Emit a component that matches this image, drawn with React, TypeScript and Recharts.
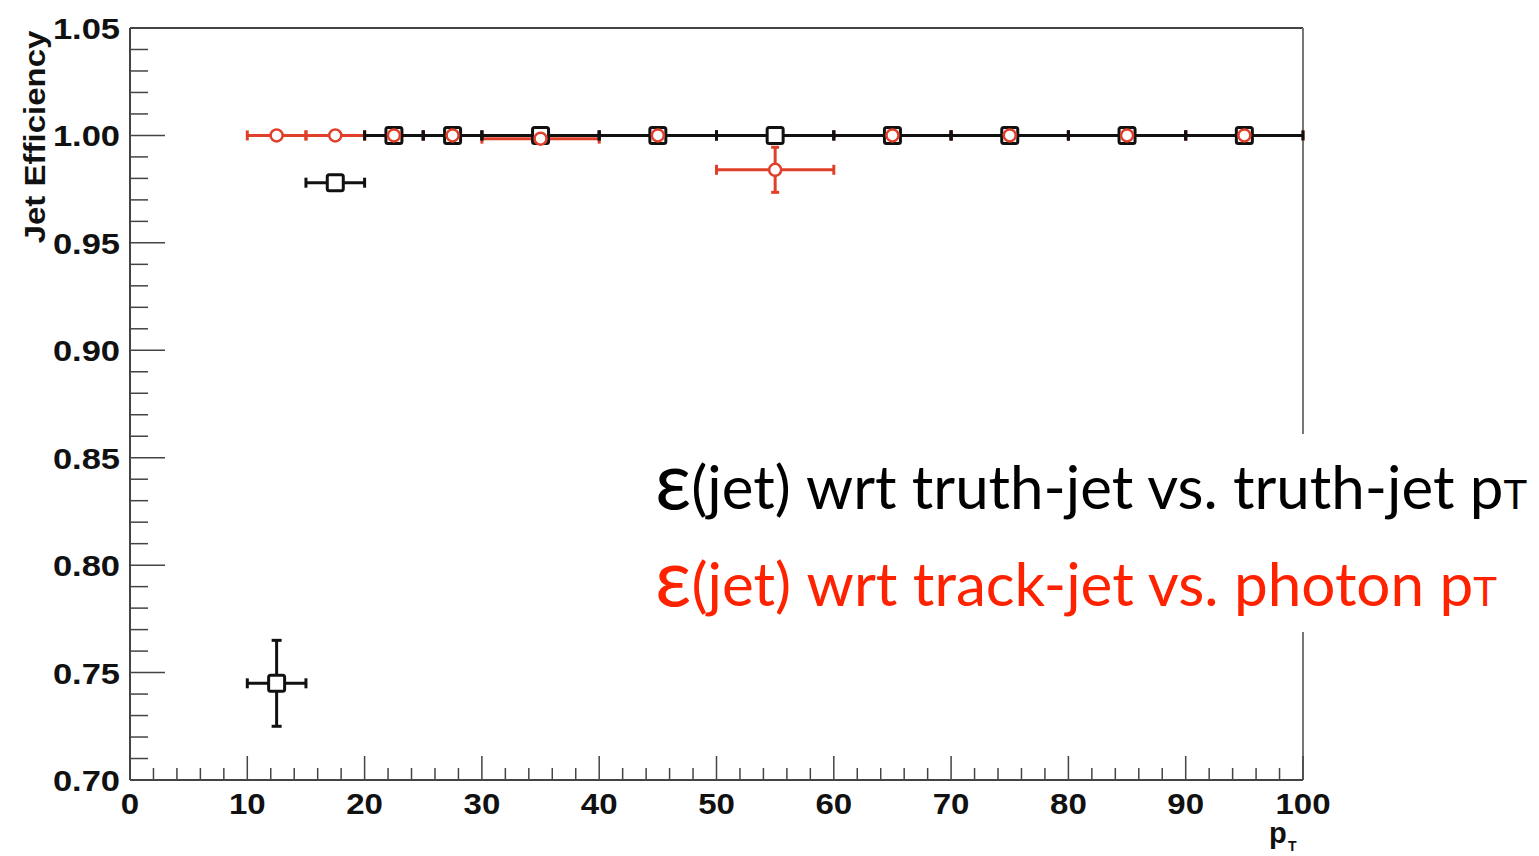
import { ScatterChart, Scatter, XAxis, YAxis, ErrorBar, ReferenceLine } from 'recharts'

// bin centres / half widths in pT
const binCenters = [12.5, 17.5, 22.5, 27.5, 35, 45, 55, 65, 75, 85, 95]
const binHalfWidths = [2.5, 2.5, 2.5, 2.5, 5, 5, 5, 5, 5, 5, 5]

// eff(jet) wrt truth-jet vs truth-jet pT (black squares)
const truthJetEff = [0.745, 0.978, 1, 1, 1, 1, 1, 1, 1, 1, 1]
const truthJetErr = [0.02, 0.002, 0, 0, 0, 0, 0, 0, 0, 0, 0]

// eff(jet) wrt track-jet vs photon pT (red circles)
const trackJetEff = [1, 1, 1, 1, 0.9985, 1, 0.984, 1, 1, 1, 1]
const trackJetErr = [0, 0, 0, 0, 0.001, 0, 0.0105, 0, 0, 0, 0]

const xMajorTicks = [0, 10, 20, 30, 40, 50, 60, 70, 80, 90, 100]
const yMajorTicks = [0.7, 0.75, 0.8, 0.85, 0.9, 0.95, 1.0, 1.05]

const legendLines = [
  { label: 'truth-jet vs. truth-jet', text: '(jet) wrt truth-jet vs. truth-jet p', color: '#000' },
  { label: 'track-jet vs. photon', text: '(jet) wrt track-jet vs. photon p', color: '#ff2200' },
]

const BLACK = '#111'
const RED = '#e0402a'

const withMinors = (majors: number[], n: number, digits: number) => {
  const out: number[] = []
  majors.forEach((m, i) => {
    out.push(m)
    if (i < majors.length - 1) {
      const step = (majors[i + 1] - m) / n
      for (let k = 1; k < n; k++) out.push(Number((m + k * step).toFixed(digits)))
    }
  })
  return out
}

const xTicks = withMinors(xMajorTicks, 5, 0)
const yTicks = withMinors(yMajorTicks, 5, 2)

const truthData = binCenters.map((x, i) => ({ x, y: truthJetEff[i], ex: binHalfWidths[i], ey: truthJetErr[i] }))
const trackData = binCenters.map((x, i) => ({ x, y: trackJetEff[i], ex: binHalfWidths[i], ey: trackJetErr[i] }))

const labelFont = '"Liberation Sans", Arial, sans-serif'

const XTick = (props: any) => {
  const { x, y, payload } = props
  const major = xMajorTicks.includes(payload.value)
  return (
    <g>
      <line x1={x} y1={y} x2={x} y2={y - (major ? 24 : 12)} stroke="#444" strokeWidth={1.5} />
      {major && (
        <text
          transform={`translate(${x},${y + 34}) scale(1.1,1)`}
          textAnchor="middle"
          fontFamily={labelFont}
          fontWeight="bold"
          fontSize={30}
          fill="#111"
        >
          {payload.value}
        </text>
      )}
    </g>
  )
}

const YTick = (props: any) => {
  const { x, y, payload } = props
  const major = yMajorTicks.some((m) => Math.abs(m - payload.value) < 1e-6)
  return (
    <g>
      <line x1={x} y1={y} x2={x + (major ? 35 : 18)} y2={y} stroke="#444" strokeWidth={1.5} />
      {major && (
        <text
          transform={`translate(${x - 10},${y + 11}) scale(1.15,1)`}
          textAnchor="end"
          fontFamily={labelFont}
          fontWeight="bold"
          fontSize={30}
          fill="#111"
        >
          {payload.value.toFixed(2)}
        </text>
      )}
    </g>
  )
}

const noShape = () => <g />

const squareShape = (p: any) => (
  <rect x={p.cx - 8} y={p.cy - 8} width={16} height={16} rx={2} fill="#fff" stroke={BLACK} strokeWidth={3} />
)

const circleShape = (p: any) => <circle cx={p.cx} cy={p.cy} r={6} fill="#fff" stroke={RED} strokeWidth={2.5} />

export default function App() {
  return (
    <div style={{ position: 'absolute', left: 0, top: 0, width: 1539, height: 856, background: '#fff', overflow: 'hidden' }}>
      <ScatterChart width={1539} height={856} margin={{ top: 28, right: 236, left: 70, bottom: 36 }}>
        <XAxis
          type="number"
          dataKey="x"
          domain={[0, 100]}
          ticks={xTicks}
          interval={0}
          tickSize={0}
          tickMargin={0}
          height={40}
          tick={<XTick />}
          axisLine={{ stroke: '#444', strokeWidth: 2 }}
          allowDataOverflow
        />
        <YAxis
          type="number"
          dataKey="y"
          domain={[0.7, 1.05]}
          ticks={yTicks}
          interval={0}
          tickSize={0}
          tickMargin={0}
          width={60}
          tick={<YTick />}
          axisLine={{ stroke: '#444', strokeWidth: 2 }}
          allowDataOverflow
        />
        <ReferenceLine y={1.05} stroke="#444" strokeWidth={2} />
        <ReferenceLine x={100} stroke="#777" strokeWidth={2} />

        <Scatter data={trackData} shape={noShape} isAnimationActive={false}>
          <ErrorBar dataKey="ex" direction="x" width={5} stroke={RED} strokeWidth={3} />
          <ErrorBar dataKey="ey" direction="y" width={4} stroke={RED} strokeWidth={3} />
        </Scatter>
        <Scatter data={truthData} shape={noShape} isAnimationActive={false}>
          <ErrorBar dataKey="ex" direction="x" width={5} stroke={BLACK} strokeWidth={3} />
          <ErrorBar dataKey="ey" direction="y" width={5} stroke={BLACK} strokeWidth={3} />
        </Scatter>
        <Scatter data={truthData} shape={squareShape} isAnimationActive={false} />
        <Scatter data={trackData} shape={circleShape} isAnimationActive={false} />
      </ScatterChart>

      <svg width={1539} height={856} style={{ position: 'absolute', left: 0, top: 0, pointerEvents: 'none' }}>
        <text
          transform="translate(45,137) rotate(-90) scale(1.1,1)"
          textAnchor="middle"
          fontFamily={labelFont}
          fontWeight="bold"
          fontSize={30}
          fill="#111"
        >
          Jet Efficiency
        </text>
        <text x={1269} y={843} fontFamily={labelFont} fontWeight="bold" fontSize={29} fill="#111">
          p
        </text>
        <text x={1288} y={851} fontFamily={labelFont} fontWeight="bold" fontSize={14} fill="#111">
          T
        </text>

        {/* text box pasted over the plot */}
        <rect x={642} y={434} width={897} height={198} fill="#fff" />
        {legendLines.map((l, i) => (
          <text
            key={l.label}
            x={655}
            y={509 + i * 97}
            fontFamily='Lato, "Open Sans", sans-serif'
            fontSize={60}
            fill={l.color}
            textLength={i === 0 ? 872 : 842}
            lengthAdjust="spacingAndGlyphs"
          >
            <tspan fontSize={80}>ε</tspan>
            {l.text}
            <tspan fontSize={40}>T</tspan>
          </text>
        ))}
      </svg>
    </div>
  )
}
